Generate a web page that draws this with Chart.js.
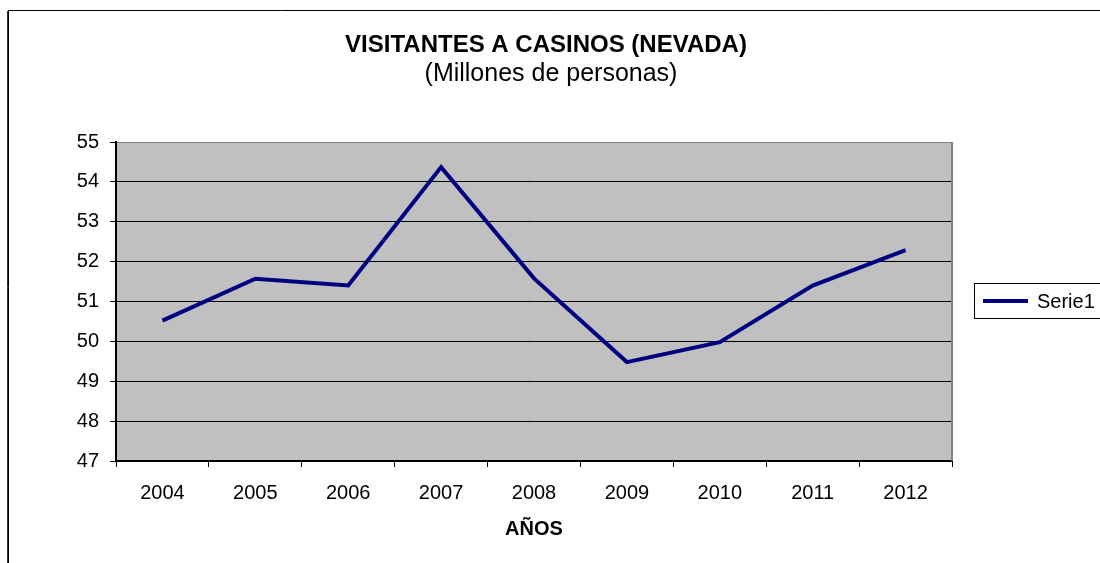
<!DOCTYPE html>
<html>
<head>
<meta charset="utf-8">
<script src="https://cdn.jsdelivr.net/npm/chart.js@4.4.1/dist/chart.umd.min.js"></script>
<style>
  html, body { margin: 0; padding: 0; background: #fff; }
  #wrap { width: 1100px; height: 563px; position: relative; }
</style>
</head>
<body>
<div id="wrap"><canvas id="c" width="1100" height="563"></canvas></div>
<script>
const categories = ['2004', '2005', '2006', '2007', '2008', '2009', '2010', '2011', '2012'];
const visitantes = [50.52, 51.57, 51.40, 54.37, 51.58, 49.48, 49.98, 51.40, 52.29];
const seriesName = 'Serie1';
const titleText = 'VISITANTES A CASINOS (NEVADA)';
const subtitleText = '(Millones de personas)';
const xAxisTitle = 'AÑOS';
const yMin = 47, yMax = 55, yStep = 1;

const FONT = "'Liberation Sans', Arial, Helvetica, sans-serif";
Chart.defaults.font.family = FONT;
Chart.defaults.color = '#000';

const decor = {
  id: 'decor',
  beforeDraw(chart) {
    const ctx = chart.ctx, a = chart.chartArea;
    ctx.save();
    ctx.fillStyle = '#fff';
    ctx.fillRect(0, 0, chart.width, chart.height);
    ctx.fillStyle = '#C0C0C0';
    ctx.fillRect(a.left, a.top, a.right - a.left, a.bottom - a.top);
    ctx.restore();
  },
  afterDraw(chart) {
    const ctx = chart.ctx, a = chart.chartArea;
    ctx.save();
    // right border of plot area (gray)
    ctx.strokeStyle = '#808080';
    ctx.lineWidth = 2;
    ctx.beginPath();
    ctx.moveTo(a.right, a.top);
    ctx.lineTo(a.right, a.bottom);
    ctx.stroke();
    // outer chart border
    ctx.strokeStyle = '#000';
    ctx.lineWidth = 1;
    ctx.beginPath();
    ctx.moveTo(8.5, chart.height + 5);
    ctx.lineTo(8.5, 10.5);
    ctx.lineTo(chart.width + 5, 10.5);
    ctx.stroke();
    ctx.lineWidth = 1;
    ctx.strokeStyle = '#333';
    ctx.beginPath();
    ctx.moveTo(7.5, chart.height + 5);
    ctx.lineTo(7.5, 11);
    ctx.stroke();
    // titles
    ctx.fillStyle = '#000';
    ctx.textAlign = 'center';
    ctx.textBaseline = 'alphabetic';
    ctx.font = 'bold 24px ' + FONT;
    ctx.fillText(titleText, 546, 52);
    ctx.font = '25px ' + FONT;
    ctx.fillText(subtitleText, 551, 81);
    // legend
    const ds = chart.data.datasets[0];
    ctx.fillStyle = '#fff';
    ctx.fillRect(974.5, 283.5, 200, 35);
    ctx.strokeStyle = '#000';
    ctx.lineWidth = 1;
    ctx.strokeRect(974.5, 283.5, 200, 35);
    ctx.strokeStyle = ds.borderColor;
    ctx.lineWidth = 4;
    ctx.beginPath();
    ctx.moveTo(983, 301);
    ctx.lineTo(1028, 301);
    ctx.stroke();
    ctx.fillStyle = '#000';
    ctx.textAlign = 'left';
    ctx.textBaseline = 'middle';
    ctx.font = '20px ' + FONT;
    ctx.fillText(ds.label, 1037, 302);
    ctx.restore();
  }
};

new Chart(document.getElementById('c'), {
  type: 'line',
  data: {
    labels: categories,
    datasets: [{
      label: seriesName,
      data: visitantes,
      borderColor: '#000080',
      backgroundColor: '#000080',
      borderWidth: 4,
      pointRadius: 0,
      pointHoverRadius: 0,
      tension: 0,
      fill: false
    }]
  },
  options: {
    responsive: false,
    animation: false,
    events: [],
    layout: { padding: { left: 0, right: 148, top: 142, bottom: 0 } },
    plugins: {
      legend: { display: false },
      title: { display: false },
      tooltip: { enabled: false }
    },
    scales: {
      x: {
        type: 'category',
        offset: true,
        grid: {
          offset: true,
          drawOnChartArea: false,
          drawTicks: true,
          tickLength: 6,
          color: '#000',
          lineWidth: 1
        },
        border: { display: true, color: '#000', width: 2 },
        ticks: { font: { size: 20 }, color: '#000', padding: 14, maxRotation: 0, autoSkip: false },
        title: {
          display: true,
          text: xAxisTitle,
          font: { size: 20, weight: 'bold' },
          color: '#000',
          padding: { top: 0, bottom: 22 }
        },
        afterFit(scale) { scale.height = 102; }
      },
      y: {
        min: yMin,
        max: yMax,
        grid: {
          color: (c) => (c.tick && c.tick.value === yMax) ? '#808080' : '#000',
          lineWidth: 1,
          tickLength: 6,
          drawTicks: true,
          tickColor: '#000'
        },
        border: { display: true, color: '#000', width: 2 },
        ticks: { stepSize: yStep, font: { size: 20 }, color: '#000', padding: 11 },
        afterFit(scale) { scale.width = 116; }
      }
    }
  },
  plugins: [decor]
});
</script>
</body>
</html>
